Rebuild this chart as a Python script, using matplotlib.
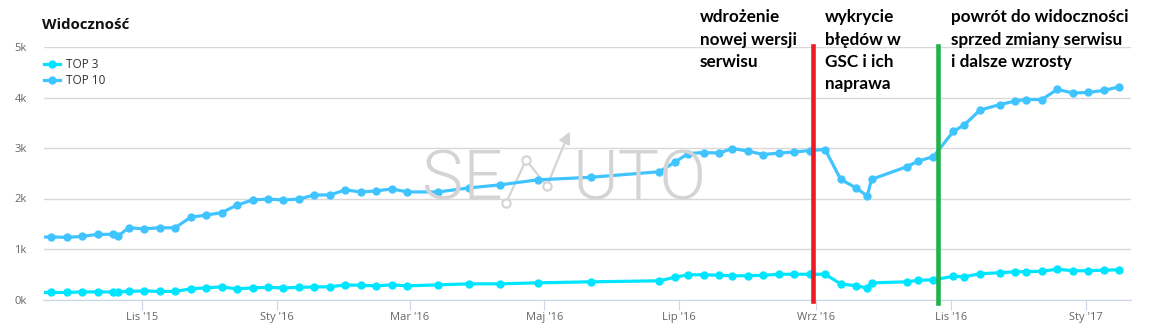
import pandas as pd
import matplotlib
matplotlib.use("Agg")
import matplotlib.pyplot as plt
from matplotlib.lines import Line2D

W, H = 1160, 331

dates = ["2015-09-14", "2015-09-21", "2015-09-28", "2015-10-05", "2015-10-12",
         "2015-10-19", "2015-10-21", "2015-10-26", "2015-11-02", "2015-11-09",
         "2015-11-16", "2015-11-23", "2015-11-30", "2015-12-07", "2015-12-14",
         "2015-12-21", "2015-12-28", "2016-01-04", "2016-01-11", "2016-01-18",
         "2016-01-25", "2016-02-01", "2016-02-08", "2016-02-15", "2016-02-22",
         "2016-02-29", "2016-03-14", "2016-03-28", "2016-04-11", "2016-04-28",
         "2016-05-22", "2016-06-22", "2016-06-29", "2016-07-05", "2016-07-12",
         "2016-07-19", "2016-07-25", "2016-08-01", "2016-08-08", "2016-08-15",
         "2016-08-22", "2016-08-29", "2016-09-05", "2016-09-12", "2016-09-19",
         "2016-09-24", "2016-09-26", "2016-10-12", "2016-10-17", "2016-10-24",
         "2016-11-02", "2016-11-07", "2016-11-14", "2016-11-23", "2016-11-30",
         "2016-12-05", "2016-12-12", "2016-12-19", "2016-12-26", "2017-01-02",
         "2017-01-09", "2017-01-16"]

top10 = [1230, 1240, 1230, 1250, 1290, 1290, 1250, 1420, 1400, 1420,
         1420, 1630, 1670, 1720, 1870, 1970, 1990, 1970, 1990, 2070,
         2070, 2170, 2130, 2150, 2190, 2130, 2130, 2210, 2270, 2370,
         2420, 2530, 2720, 2890, 2910, 2900, 2990, 2940, 2870, 2900,
         2920, 2950, 2970, 2380, 2210, 2050, 2380, 2630, 2740, 2830,
         3330, 3460, 3750, 3860, 3930, 3960, 3960, 4160, 4090, 4100,
         4140, 4210]

top3 = [140, 140, 140, 150, 150, 150, 150, 160, 170, 160,
        160, 210, 230, 250, 210, 230, 240, 230, 240, 250,
        250, 290, 280, 270, 290, 270, 290, 310, 310, 330,
        350, 370, 440, 490, 490, 480, 470, 470, 480, 500,
        500, 500, 500, 310, 270, 230, 330, 350, 380, 390,
        460, 450, 510, 530, 550, 550, 560, 600, 570, 570,
        580, 590]

tick_dates = ["2015-11-01", "2016-01-01", "2016-03-01", "2016-05-01",
              "2016-07-01", "2016-09-01", "2016-11-01", "2017-01-01"]
tick_labels = ["Lis '15", "Sty '16", "Mar '16", "Maj '16",
               "Lip '16", "Wrz '16", "Lis '16", "Sty '17"]

y_ticks = [0, 1000, 2000, 3000, 4000, 5000]
y_labels = ["0k", "1k", "2k", "3k", "4k", "5k"]

series_names = ["TOP 3", "TOP 10"]
series_colors = ["#00e5ff", "#40c4ff"]

events = ["2016-08-30 12:00", "2016-10-26"]
event_colors = ["#ed1c24", "#22b14c"]
notes = [["wdrożenie", "nowej wersji", "serwisu"],
         ["wykrycie", "błędów w", "GSC i ich", "naprawa"],
         ["powrót do widoczności", "sprzed zmiany serwisu", "i dalsze wzrosty"]]

x = pd.to_datetime(dates)


def fx(px):
    return px / W


def fy(py):
    return 1 - py / H


fig = plt.figure(figsize=(W / 100, H / 100), dpi=100)
ax = fig.add_axes([fx(43.5), fy(299.5), (1131 - 43.5) / W, (299.5 - 47) / H])

# watermark behind everything
wm = "#d4d4d4"
fig.text(fx(422), fy(199), "SE", fontsize=50, color=wm, family="Roboto",
         fontweight=300, va="baseline", zorder=0)
fig.text(fx(572), fy(199), "UTO", fontsize=50, color=wm, family="Roboto",
         fontweight=300, va="baseline", zorder=0)
lx = [506, 526, 547, 568]
ly = [203, 160, 186, 135]
fig.add_artist(Line2D([fx(v) for v in lx], [fy(v) for v in ly], color=wm,
                      lw=1.6, zorder=0))
fig.add_artist(Line2D([fx(v) for v in lx[:3]], [fy(v) for v in ly[:3]],
                      ls="none", marker="o", ms=6, mfc="white", mec=wm,
                      mew=1.5, zorder=0))
ax.annotate("", xy=(fx(571), fy(129)), xytext=(fx(564), fy(144)),
            xycoords="figure fraction",
            arrowprops=dict(arrowstyle="-|>,head_width=0.35,head_length=0.7",
                            color=wm, lw=1.5))

ax.patch.set_alpha(0)
ax.plot(x, top3, color=series_colors[0], lw=2.3, marker="o", ms=5, zorder=3)
ax.plot(x, top10, color=series_colors[1], lw=2.3, marker="o", ms=5, zorder=3)

ax.set_xlim(pd.Timestamp("2015-09-17 11:00"), pd.Timestamp("2017-01-21 08:00"))
ax.set_ylim(0, 5000)
ax.set_yticks(y_ticks)
ax.set_yticklabels(y_labels)
ax.set_xticks(pd.to_datetime(tick_dates))
ax.set_xticklabels(tick_labels)
ax.grid(axis="y", color="#d8d8d8", lw=1)
ax.set_axisbelow(True)
for s in ["top", "right", "left"]:
    ax.spines[s].set_visible(False)
ax.spines["bottom"].set_color("#ccd6eb")
ax.tick_params(axis="y", length=0, pad=12, labelsize=8, labelcolor="#666666")
ax.tick_params(axis="x", length=7, color="#ccd6eb", pad=2, labelsize=8,
               labelcolor="#666666")
for lab in ax.get_xticklabels() + ax.get_yticklabels():
    lab.set_family("Open Sans")

# event markers
ax.axvline(pd.Timestamp(events[0]), ymin=-0.004, ymax=1.004,
           color=event_colors[0], lw=3.3, clip_on=False, zorder=4)
ax.axvline(pd.Timestamp(events[1]), ymin=-0.014, ymax=1.004,
           color=event_colors[1], lw=3.3, clip_on=False, zorder=4)

# notes above the chart
note_x = [700, 825, 951]
for nx, lines in zip(note_x, notes):
    for i, line in enumerate(lines):
        fig.text(fx(nx), fy(22 + i * 22.5), line, fontsize=12.3,
                 family="Lato", fontweight="bold", va="baseline")

fig.text(fx(42), fy(29), "Widoczność", fontsize=10.8, family="Open Sans",
         fontweight="bold", color="#111111", va="baseline")

# legend
for i, (name, col) in enumerate(zip(series_names, series_colors)):
    yy = 64 + i * 16
    fig.add_artist(Line2D([fx(44), fx(52), fx(60)], [fy(yy)] * 3, color=col,
                          lw=2.3, marker="o", ms=5, markevery=[1]))
    fig.text(fx(66), fy(yy), name, fontsize=8.5, family="Open Sans",
             color="#333333", va="center")

fig.savefig("out.png", dpi=100)
